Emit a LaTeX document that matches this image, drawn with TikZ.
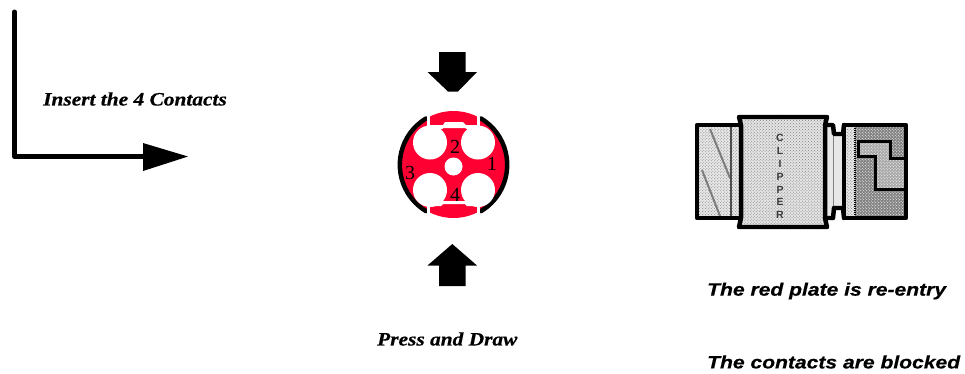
\documentclass[tikz,border=0pt]{standalone}
\usepackage{fontspec}
\usetikzlibrary{patterns}
\setmainfont{Liberation Serif}
\setsansfont{Liberation Sans}
\newfontfamily\capserif[FakeStretch=1.13,FakeBold=0.6]{Liberation Serif Bold Italic}
\newfontfamily\capsans[FakeStretch=1.175,FakeBold=0.5]{Liberation Sans Bold Italic}
\definecolor{plate}{RGB}{255,0,51}
\definecolor{lightg}{RGB}{232,232,232}
\definecolor{midg}{RGB}{228,228,228}
\definecolor{darkg}{RGB}{130,130,130}
\definecolor{zfill}{RGB}{168,168,168}
\definecolor{stripe}{RGB}{125,125,125}
\tikzset{
  x=1bp,y=-1bp,
  serifcap/.style={font=\capserif\fontsize{19}{19}\selectfont,inner sep=0pt,anchor=west},
  sanscap/.style={font=\capsans\fontsize{18}{18}\selectfont,inner sep=0pt,anchor=west},
  num/.style={font=\rmfamily\fontsize{20}{20}\selectfont,inner sep=0pt},
  blk/.style={line width=4.5pt,draw=black,line join=round,line cap=round},
  hole/.style={fill=white,draw=none},
  dither/.style={pattern=crosshatch dots,pattern color=#1},
}
\begin{document}
\begin{tikzpicture}
\useasboundingbox (0,0) rectangle (965,373);
% L arrow
\coordinate (lt) at (14.5,12); \coordinate (lc) at (14.5,156.5); \coordinate (le) at (145,156.5);
\draw[line width=5pt,line join=round,line cap=round] (lt) -- (lc) -- (le);
\fill (143,143) -- (188,156.5) -- (143,171) -- cycle;
\node[serifcap] (ins) at (43,99) {Insert the 4 Contacts};
% press arrows
\fill (439,52) -- (465.5,52) -- (465.5,72) -- (477,72) -- (458,91.5) -- (448,91.5) -- (427.5,72) -- (439,72) -- cycle;
\fill (439,286) -- (465.5,286) -- (465.5,265.5) -- (477,265.5) -- (452.3,244) -- (427.5,265.5) -- (439,265.5) -- cycle;
% disc
\fill[plate] (453.5,164.5) circle (53.5);
% black arcs
\draw[line width=4.5pt,line cap=round] (426,118.5) arc[start angle=-121,end angle=-239,radius=54] ;
\draw[line width=4.5pt,line cap=round] (481,118.5) arc[start angle=-59,end angle=59,radius=54];
% white separators
\fill[white] (426.8,105) rectangle (430,128);
\fill[white] (476.5,105) rectangle (479.5,128);
\fill[white] (426.8,201) rectangle (430,225);
\fill[white] (476.5,201) rectangle (479.5,225);
\fill[white] (426.8,125) -- (443,125) -- (445,122) -- (463,122) -- (466,125) -- (479.5,125) -- (479.5,136) -- (465,128) -- (444,128) -- (426.8,136) -- cycle;
\fill[white] (426.8,193) -- (444,201) -- (465,201) -- (479.5,193) -- (479.5,206) -- (467,206) -- (465,204) -- (443,204) -- (441,206) -- (426.8,206) -- cycle;
% holes
\fill[hole] (430,142.5) circle (17);
\fill[hole] (478,142.5) circle (17);
\fill[hole] (430,190) circle (17);
\fill[hole] (478,190) circle (17);
\fill[hole] (453.5,166.5) circle (9);
\node[num] (n2) at (455,147) {2};
\node[num] (n1) at (492,164) {1};
\node[num] (n3) at (410,173) {3};
\node[num] (n4) at (455,195) {4};
\node[serifcap] (press) at (377,339) {Press and Draw};
% connector fills
\fill[lightg] (697,125) rectangle (741,218);
\fill[midg] (741,117) rectangle (825,227);
\fill[lightg] (825,125) rectangle (833,218);
\fill[lightg] (833,134) rectangle (844,208);
\fill[lightg] (844,125) rectangle (855,218);
\fill[darkg] (855,125) rectangle (906,218);
\path[dither=white] (855,125) rectangle (906,218);
\path[dither=gray] (741,117) rectangle (825,227);
\path[dither=gray] (697,125) rectangle (741,218);
\path[dither=gray] (844,125) rectangle (855,218);
% left-part stripes
\draw[stripe,line width=2pt] (710,129) -- (730,178);
\draw[stripe,line width=2pt] (702,170) -- (720,216);
\draw[line width=1.6pt,draw=darkg!60!black] (731,127) -- (731,217);
% Z slot
\fill[zfill] (858.3,141.7) -- (890,141.7) -- (890,158.3) -- (906,158.3) -- (906,189.3) -- (875,189.3) -- (875,156.7) -- (858.3,156.7) -- cycle;
\path[dither=white] (858.3,141.7) -- (890,141.7) -- (890,158.3) -- (906,158.3) -- (906,189.3) -- (875,189.3) -- (875,156.7) -- (858.3,156.7) -- cycle;
\draw[line width=3pt,line join=miter] (906,158.3) -- (890,158.3) -- (890,141.7) -- (858.3,141.7) -- (858.3,156.7) -- (875,156.7) -- (875,189.3) -- (906,189.3);
% thin inner lines
\draw[line width=1pt,draw=darkg] (833.5,128) -- (833.5,215) (844,134) -- (844,208);
\draw[line width=1.3pt,dash pattern=on 1pt off 1pt] (855,128) -- (855,216);
% outlines
\draw[blk] (739,125) -- (697,125) -- (697,218) -- (739,218);
\draw[blk] (739,117) -- (827,117) -- (825,125) -- (825,218) -- (827,227) -- (739,227) -- (741,218) -- (741,125) -- cycle;
\draw[blk] (825,125) -- (833,125) -- (834,134) -- (843,134) -- (844,125);
\draw[blk] (825,218) -- (833,218) -- (834,208) -- (843,208) -- (844,218);
\draw[blk] (844,125) -- (906,125) -- (906,218) -- (844,218) -- cycle;
% label on the body
\node[font=\sffamily\bfseries\fontsize{10.5}{12.9}\selectfont,text=darkg!45!black,align=center,inner sep=0pt] (cl) at (780,176.5) {C\\L\\I\\P\\P\\E\\R};
\node[sanscap] (t1) at (707,291) {The red plate is re-entry};
\node[sanscap] (t2) at (707,362) {The contacts are blocked};
\end{tikzpicture}
\end{document}
